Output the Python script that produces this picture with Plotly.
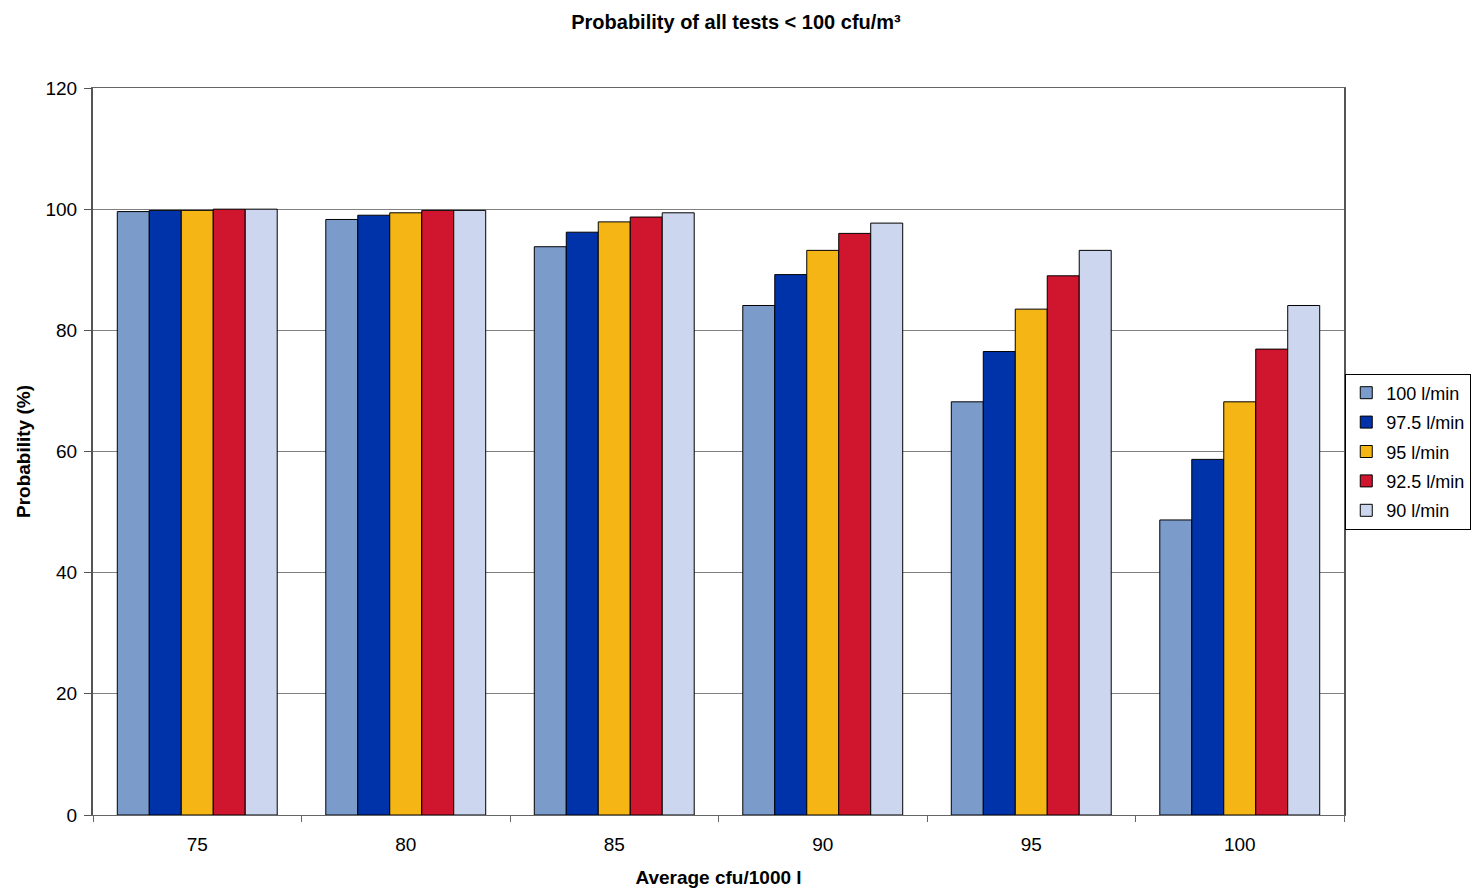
import plotly.graph_objects as go

# Average cfu per 1000 l (x categories)
categories = ["75", "80", "85", "90", "95", "100"]

# Probability (%) that all tests stay below 100 cfu/m³, per sampling flow rate
series_names = ["100 l/min", "97.5 l/min", "95 l/min", "92.5 l/min", "90 l/min"]
flow_100 = [99.6, 98.3, 93.8, 84.1, 68.2, 48.7]
flow_97_5 = [99.8, 99.0, 96.2, 89.2, 76.5, 58.7]
flow_95 = [99.8, 99.4, 97.9, 93.2, 83.5, 68.2]
flow_92_5 = [100.0, 99.8, 98.7, 96.0, 89.0, 76.9]
flow_90 = [100.0, 99.8, 99.4, 97.7, 93.2, 84.1]

series_values = [flow_100, flow_97_5, flow_95, flow_92_5, flow_90]
colors = ["#7B9CCB", "#0033AA", "#F5B515", "#D0152F", "#CCD6EE"]

font_family = "Liberation Sans, Arial, sans-serif"

fig = go.Figure()
for name, vals, col in zip(series_names, series_values, colors):
    fig.add_trace(go.Bar(
        x=categories, y=vals, name=name, legendgroup=name,
        marker=dict(color=col, line=dict(color="#000000", width=1)),
    ))

fig.update_layout(
    width=1472, height=890,
    margin=dict(l=93, r=128, t=88, b=75, autoexpand=False),
    paper_bgcolor="white", plot_bgcolor="white",
    barmode="group", bargap=0.233, bargroupgap=0,
    font=dict(family=font_family, size=19, color="#000000"),
    title=dict(
        text="<b>Probability of all tests &lt; 100 cfu/m³</b>",
        x=0.5, xanchor="center", y=0.975, yanchor="middle",
        font=dict(size=20),
    ),
    xaxis=dict(
        type="category",
        title=dict(text="<b>Average cfu/1000 l</b>", font=dict(size=19), standoff=16),
        ticks="outside", tickson="boundaries", ticklen=6, tickcolor="#666666",
        ticklabelstandoff=12,
        showline=True, linecolor="#666666", linewidth=1, mirror=True,
        showgrid=False, tickfont=dict(size=19),
    ),
    yaxis=dict(
        range=[0, 120], dtick=20,
        title=dict(text="<b>Probability (%)</b>", font=dict(size=19), standoff=10),
        ticks="outside", ticklen=7, tickcolor="#555555",
        ticklabelstandoff=3,
        showline=True, linecolor="#555555", linewidth=2, mirror=True,
        showgrid=True, gridcolor="#808080", gridwidth=1,
        tickfont=dict(size=19), zeroline=False,
    ),
    legend=dict(
        x=1.001, xanchor="left", y=0.5, yanchor="middle",
        bordercolor="#000000", borderwidth=1, bgcolor="white",
        font=dict(size=18), traceorder="grouped", tracegroupgap=3,
        itemwidth=30,
    ),
)

fig.write_html("out.html")
